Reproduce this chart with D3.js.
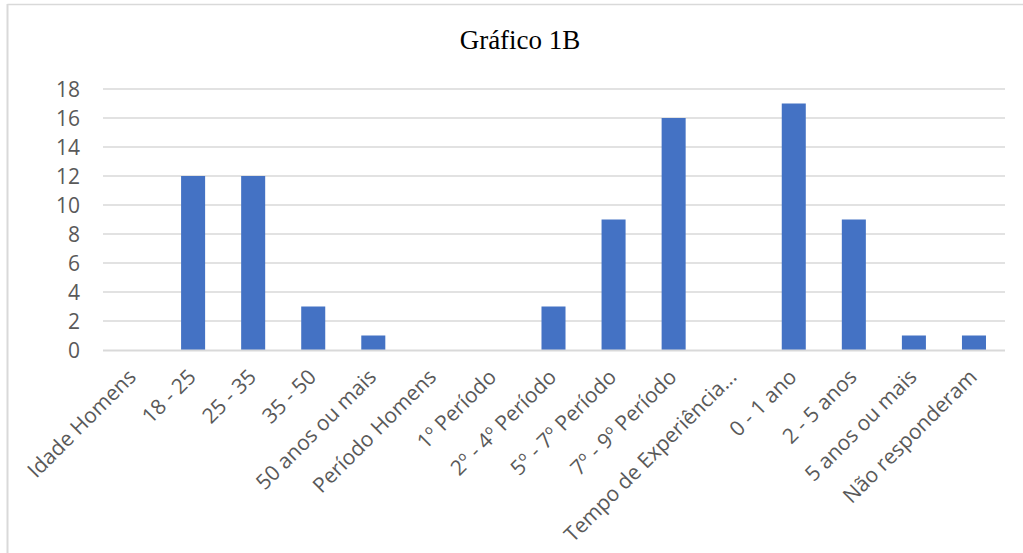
<!DOCTYPE html>
<html>
<head>
<meta charset="utf-8">
<script src="https://cdn.jsdelivr.net/npm/d3@7"></script>
<style>
  html, body { margin: 0; padding: 0; background: #ffffff; }
  svg { display: block; }
</style>
</head>
<body>
<svg id="chart" width="1023" height="553"></svg>
<script>
// Categories along the x axis (group headers have no bar)
const categories = [
  "Idade Homens", "18 - 25", "25 - 35", "35 - 50", "50 anos ou mais",
  "Período Homens", "1º Período", "2º - 4º Período", "5º - 7º Período", "7º - 9º Período",
  "Tempo de Experiência...", "0 - 1 ano", "2 - 5 anos", "5 anos ou mais", "Não responderam"
];
// Respondent counts per category
const counts = [0, 12, 12, 3, 1, 0, 0, 3, 9, 16, 0, 17, 9, 1, 1];
// Y axis ticks
const yTicks = [0, 2, 4, 6, 8, 10, 12, 14, 16, 18];
const chartTitle = "Gráfico 1B";

const svg = d3.select("#chart");
const W = 1023, H = 553;
const plot = { left: 103, right: 1004, top: 89, bottom: 350 };

const textColor = "#595959";
const gridColor = "#d9d9d9";
const barColor = "#4472c4";
const sans = "'Open Sans', 'Noto Sans', sans-serif";

// Chart area border (top and left edges visible)
svg.append("line")
  .attr("x1", 7.5).attr("x2", W).attr("y1", 4.5).attr("y2", 4.5)
  .attr("stroke", gridColor).attr("stroke-width", 1.5);
svg.append("line")
  .attr("x1", 7.5).attr("x2", 7.5).attr("y1", 4).attr("y2", H)
  .attr("stroke", gridColor).attr("stroke-width", 2);

// Title
svg.append("text")
  .attr("x", 520).attr("y", 49)
  .attr("text-anchor", "middle")
  .attr("font-family", "'Liberation Serif', 'Times New Roman', serif")
  .attr("font-size", 27)
  .attr("fill", "#000")
  .text(chartTitle);

const x = d3.scaleBand()
  .domain(categories)
  .range([plot.left, plot.right])
  .paddingInner(0.6)
  .paddingOuter(0.3);

const y = d3.scaleLinear()
  .domain([0, 18])
  .range([plot.bottom, plot.top]);

// Horizontal gridlines
svg.append("g")
  .selectAll("line")
  .data(yTicks.filter(d => d > 0))
  .join("line")
  .attr("x1", plot.left).attr("x2", plot.right + 1)
  .attr("y1", d => y(d)).attr("y2", d => y(d))
  .attr("stroke", gridColor).attr("stroke-width", 1.5);

// Y axis labels
const yAxis = d3.axisLeft(y).tickValues(yTicks).tickSize(0).tickPadding(0);
const yG = svg.append("g")
  .attr("transform", `translate(80,0)`)
  .call(yAxis);
yG.select(".domain").remove();
yG.selectAll("text")
  .attr("font-family", sans)
  .attr("font-size", 21)
  .attr("fill", textColor)
  .attr("dy", "0.35em");

// Bars
svg.append("g")
  .selectAll("rect")
  .data(categories.map((c, i) => ({ c, v: counts[i] })).filter(d => d.v > 0))
  .join("rect")
  .attr("x", d => x(d.c))
  .attr("width", x.bandwidth())
  .attr("y", d => y(d.v))
  .attr("height", d => y(0) - y(d.v))
  .attr("fill", barColor);

// Baseline
svg.append("line")
  .attr("x1", plot.left).attr("x2", plot.right + 1)
  .attr("y1", y(0) + 0.5).attr("y2", y(0) + 0.5)
  .attr("stroke", gridColor).attr("stroke-width", 2);

// X axis labels, rotated -45°
const xAxis = d3.axisBottom(x).tickSize(0).tickPadding(0);
const xG = svg.append("g")
  .attr("transform", `translate(0,${plot.bottom})`)
  .call(xAxis);
xG.select(".domain").remove();
xG.selectAll(".tick text")
  .attr("font-family", sans)
  .attr("font-size", 21)
  .attr("fill", textColor)
  .attr("text-anchor", "end")
  .attr("y", 0)
  .attr("dy", "0.35em")
  .attr("transform", "translate(-1,23) rotate(-45)");
</script>
</body>
</html>
